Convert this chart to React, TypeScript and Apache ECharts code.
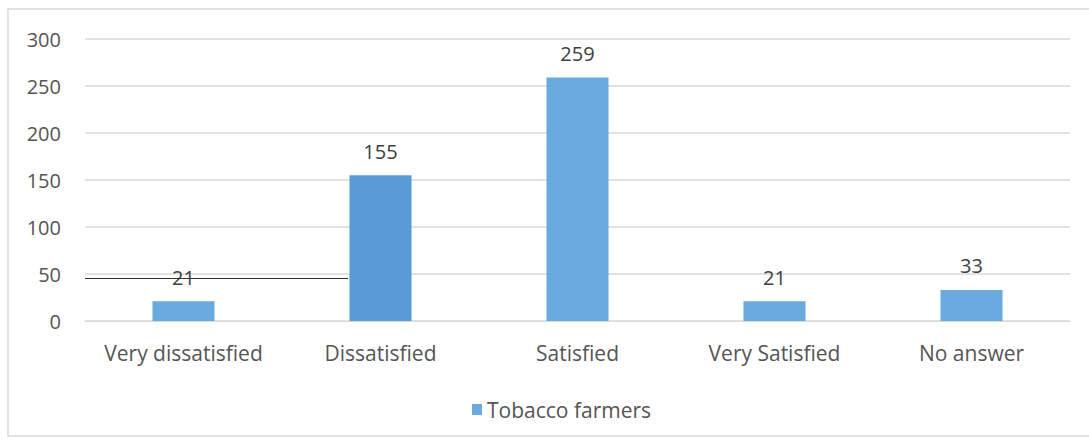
import React, { useEffect, useRef } from "react";
import * as echarts from "echarts";

const categories = ["Very dissatisfied", "Dissatisfied", "Satisfied", "Very Satisfied", "No answer"];
const farmers = [21, 155, 259, 21, 33];
const barColors = ["#6aaade", "#5b9bd5", "#6aaade", "#6aaade", "#6aaade"];
const seriesName = "Tobacco farmers";
const yTicks = { min: 0, max: 300, interval: 50 };
const strayLineValue = 46;

const FONT = "'Open Sans', Lato, sans-serif";
const TEXT = "#555555";

export default function App() {
  const ref = useRef<HTMLDivElement>(null);
  useEffect(() => {
    if (!ref.current) return;
    const chart = echarts.init(ref.current, null, { renderer: "svg" });
    chart.setOption({
      animation: false,
      backgroundColor: "#ffffff",
      textStyle: { fontFamily: FONT },
      grid: { left: 85, right: 19, top: 39, bottom: 120, containLabel: false },
      legend: {
        top: 394,
        left: 467,
        itemWidth: 10,
        itemHeight: 11,
        itemGap: 9,
        icon: "rect",
        textStyle: { color: TEXT, fontSize: 21, fontFamily: FONT },
        data: [{ name: seriesName, itemStyle: { color: "#6aaade" } }],
      },
      xAxis: {
        type: "category",
        data: categories,
        axisLine: { lineStyle: { color: "#d9d9d9", width: 1 } },
        axisTick: { show: false },
        axisLabel: {
          color: TEXT,
          fontSize: 21,
          margin: 21,
          fontFamily: FONT,
          interval: 0,
          hideOverlap: false,
        },
      },
      yAxis: {
        type: "value",
        min: yTicks.min,
        max: yTicks.max,
        interval: yTicks.interval,
        axisLine: { show: false },
        axisTick: { show: false },
        splitLine: { lineStyle: { color: "#d9d9d9", width: 1.5 } },
        axisLabel: { color: TEXT, fontSize: 20, margin: 24, fontFamily: FONT },
      },
      graphic: [
        {
          type: "rect",
          shape: { x: 8, y: 9, width: 1100, height: 427 },
          style: { fill: "none", stroke: "#d9d9d9", lineWidth: 1.5 },
          silent: true,
        },
      ],
      series: [
        {
          name: seriesName,
          type: "bar",
          barWidth: "31.5%",
          data: farmers.map((v, i) => ({ value: v, itemStyle: { color: barColors[i] } })),
          label: {
            show: true,
            position: "top",
            distance: 14,
            color: "#404040",
            fontSize: 20,
            fontFamily: FONT,
          },
          markLine: {
            silent: true,
            symbol: "none",
            label: { show: false },
            lineStyle: { color: "#333333", width: 1.2, type: "solid" },
            data: [[{ x: 85, yAxis: strayLineValue }, { x: 348, yAxis: strayLineValue }]],
          },
        },
      ],
    });
    return () => chart.dispose();
  }, []);
  return (
    <div
      ref={ref}
      style={{ position: "fixed", left: 0, top: 0, width: 1089, height: 441 }}
    />
  );
}
